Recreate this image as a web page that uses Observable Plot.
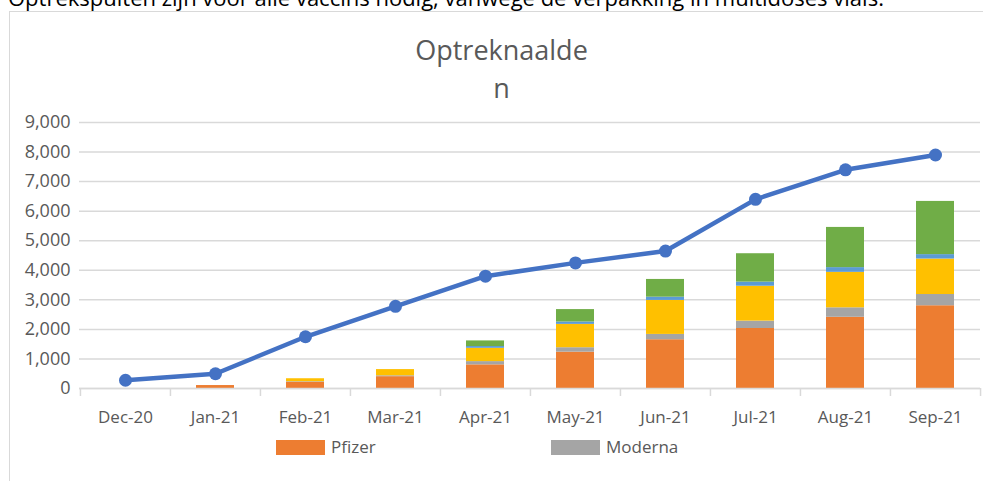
<!DOCTYPE html>
<html><head><meta charset="utf-8">
<script src="https://cdn.jsdelivr.net/npm/d3@7"></script>
<script src="https://cdn.jsdelivr.net/npm/@observablehq/plot@0.6"></script>
<style>
body{margin:0;overflow:hidden;background:#fff;}
#wrap{position:relative;width:983px;height:481px;overflow:hidden;font-family:"Open Sans",sans-serif;}
#note{position:absolute;left:8px;top:-14px;font-size:22px;line-height:22px;color:#000;white-space:nowrap;}
#frame{position:absolute;left:9px;top:11px;width:1100px;height:600px;border:1px solid #d9d9d9;}
#chart{position:absolute;left:0;top:0;}
#title{position:absolute;left:10px;top:31px;width:983px;text-align:center;font-size:27px;line-height:38px;color:#595959;}
.lg{position:absolute;top:440px;width:49px;height:15px;}
.lt{position:absolute;top:436px;font-size:17px;line-height:22px;color:#595959;}
</style></head><body>
<div id="wrap">
<div id="note">Optrekspuiten zijn voor alle vaccins nodig, vanwege de verpakking in multidoses vials.</div>
<div id="frame"></div>
<div id="chart"></div>
<div id="title">Optreknaalde<br>n</div>
<div id="legend"></div>
</div>
<script>
const months = ["Dec-20","Jan-21","Feb-21","Mar-21","Apr-21","May-21","Jun-21","Jul-21","Aug-21","Sep-21"];
const series = ["Pfizer","Moderna","AstraZeneca","Janssen","CureVac"];
const colors = ["#ED7D31","#A5A5A5","#FFC000","#5B9BD5","#70AD47"];
const pfizer  = [0, 100, 210, 400, 800, 1230, 1650, 2030, 2410, 2800];
const moderna = [0, 0, 20, 30, 110, 150, 180, 250, 320, 380];
const astra   = [0, 0, 100, 210, 450, 790, 1150, 1180, 1200, 1200];
const janssen = [0, 0, 0, 0, 60, 80, 110, 140, 160, 150];
const curevac = [0, 0, 0, 0, 190, 420, 600, 960, 1360, 1800];
const needles = [280, 500, 1750, 2780, 3800, 4250, 4650, 6400, 7400, 7900];
const yTicks = [0,1000,2000,3000,4000,5000,6000,7000,8000,9000];
const legendItems = ["Pfizer","Moderna"];

const seriesValues = [pfizer, moderna, astra, janssen, curevac];
const rows = months.flatMap((m,i)=>series.map((s,j)=>({month:m, vaccine:s, value:seriesValues[j][i]})));
const lineRows = months.map((m,i)=>({month:m, value:needles[i]}));

const W = 983, H = 481, ML = 79, MR = 3, MT = 122, MB = 93;
const step = (W - ML - MR) / months.length;

const chart = Plot.plot({
  width: W, height: H,
  marginLeft: ML, marginRight: MR, marginTop: MT, marginBottom: MB,
  style: {background:"transparent", fontFamily:"'Open Sans', sans-serif", fontSize:"17px", color:"#595959"},
  x: {domain: months, paddingInner: 0.58, paddingOuter: 0.29, label: null, tickSize: 0, tickPadding: 22},
  y: {domain: [0, 9000], ticks: yTicks, tickFormat: d3.format(","), label: null, tickSize: 0, tickPadding: 9},
  color: {domain: series, range: colors},
  marks: [
    Plot.gridY(yTicks, {stroke:"#d9d9d9", strokeOpacity:1, strokeWidth:1.5}),
    Plot.barY(rows, {x:"month", y:"value", fill:"vaccine"}),
    Plot.ruleY([0], {stroke:"#d9d9d9", strokeWidth:1.5}),
    Plot.ruleX(months, {x: d=>d, dx: -step/2, y1: 0, y2: -270, stroke:"#d9d9d9", strokeWidth:1.5}),
    Plot.ruleX(months.slice(-1), {x: d=>d, dx: step/2, y1: 0, y2: -270, stroke:"#d9d9d9", strokeWidth:1.5}),
    Plot.line(lineRows, {x:"month", y:"value", stroke:"#4472C4", strokeWidth:4.5}),
    Plot.dot(lineRows, {x:"month", y:"value", fill:"#4472C4", r:6.5})
  ]
});
document.getElementById("chart").appendChild(chart);
chart.querySelectorAll("g[aria-label='y-axis tick label']").forEach(g=>g.setAttribute("font-size","18"));

const lg = document.getElementById("legend");
const lgX = [276, 551];
legendItems.forEach((name,i)=>{
  const sw = document.createElement("div");
  sw.className = "lg"; sw.style.left = lgX[i]+"px"; sw.style.background = colors[series.indexOf(name)];
  const t = document.createElement("div");
  t.className = "lt"; t.style.left = (lgX[i]+55)+"px"; t.textContent = name;
  lg.appendChild(sw); lg.appendChild(t);
});
</script>
</body></html>
